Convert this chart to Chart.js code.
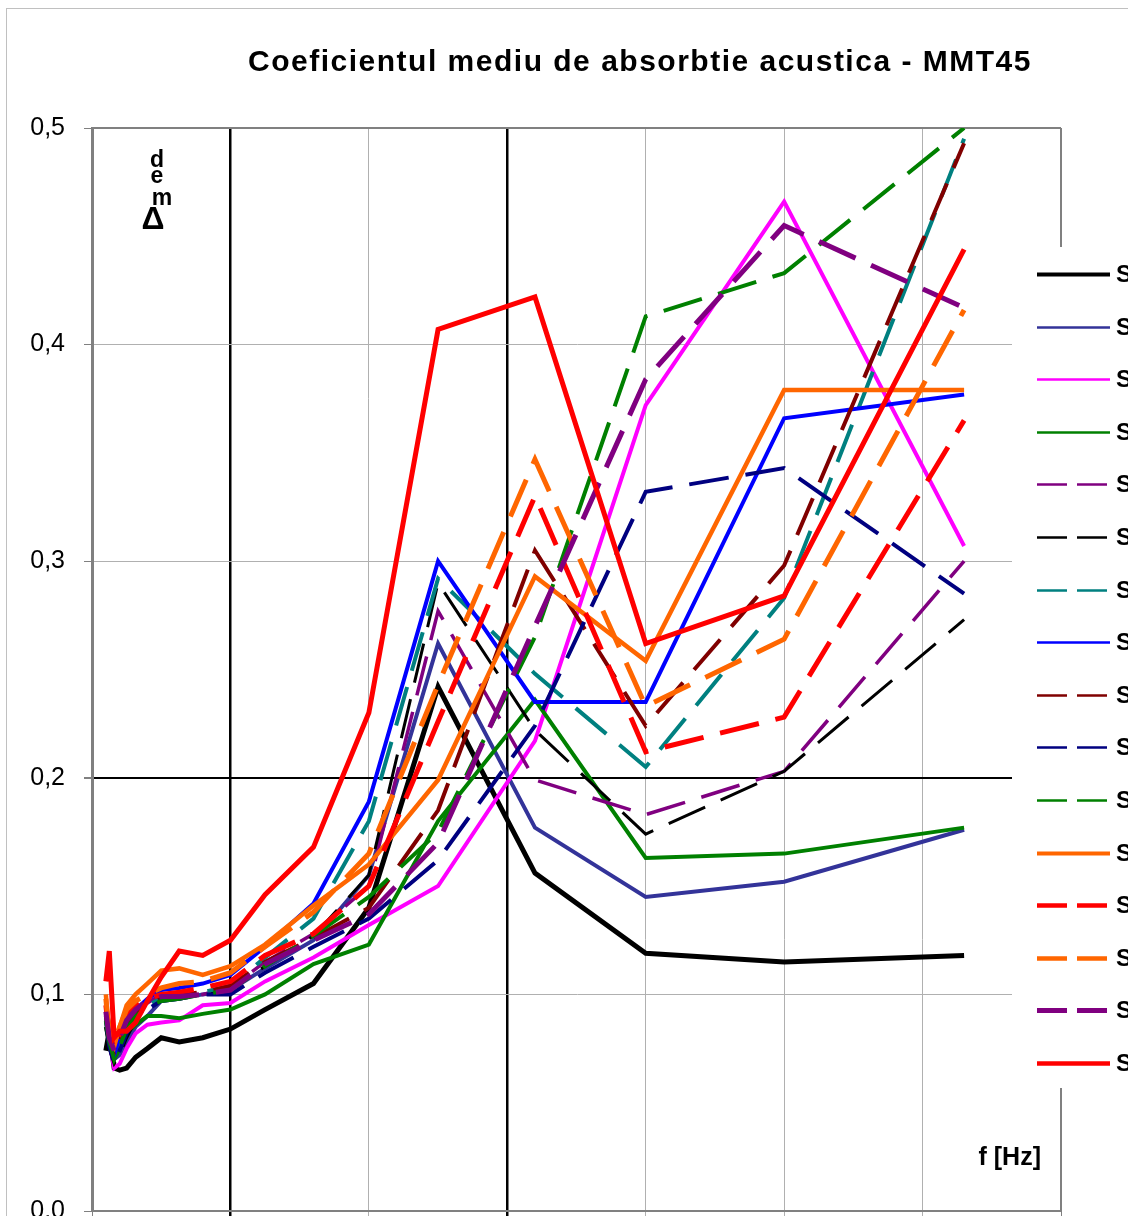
<!DOCTYPE html>
<html><head><meta charset="utf-8">
<script src="https://cdn.jsdelivr.net/npm/chart.js@4/dist/chart.umd.min.js"></script>
<style>html,body{margin:0;padding:0;background:#fff;overflow:hidden}#wrap{position:relative;width:1128px;height:1216px;overflow:hidden}</style>
</head><body><div id="wrap"><canvas id="c" width="1128" height="1245"></canvas></div>
<script>
// ---- data ----
const freqs = [100,125,160,200,250,315,400,500,630,800,1000,1250,1600,2000,2500,3200,4000,5000,6300];
const s1  = [0.074,0.083,0.066,0.065,0.066,0.071,0.075,0.080,0.078,0.080,0.084,0.093,0.105,0.140,0.242,0.156,0.119,0.115,0.118];
const s2  = [0.090,0.085,0.070,0.072,0.078,0.085,0.090,0.097,0.098,0.100,0.102,0.112,0.125,0.155,0.262,0.177,0.145,0.152,0.176];
const s3  = [0.085,0.078,0.066,0.068,0.075,0.082,0.086,0.087,0.088,0.095,0.096,0.106,0.117,0.132,0.150,0.217,0.372,0.466,0.307];
const s4  = [0.085,0.077,0.070,0.075,0.082,0.086,0.090,0.090,0.089,0.091,0.093,0.100,0.114,0.123,0.180,0.236,0.163,0.165,0.177];
const s5  = [0.095,0.080,0.072,0.080,0.088,0.092,0.096,0.100,0.100,0.100,0.103,0.115,0.128,0.150,0.277,0.199,0.183,0.203,0.300];
const s6  = [0.085,0.075,0.068,0.072,0.080,0.088,0.095,0.098,0.098,0.100,0.102,0.113,0.127,0.155,0.290,0.222,0.174,0.203,0.273];
const s7  = [0.090,0.078,0.070,0.076,0.084,0.090,0.095,0.098,0.100,0.101,0.104,0.117,0.135,0.180,0.292,0.248,0.205,0.283,0.495];
const s8  = [0.093,0.080,0.072,0.080,0.088,0.093,0.098,0.102,0.103,0.105,0.109,0.122,0.142,0.189,0.300,0.235,0.235,0.366,0.377];
const s9  = [0.090,0.078,0.072,0.078,0.086,0.091,0.096,0.099,0.100,0.101,0.104,0.115,0.126,0.140,0.185,0.305,0.224,0.298,0.493];
const s10 = [0.088,0.076,0.068,0.074,0.082,0.088,0.093,0.097,0.098,0.100,0.100,0.110,0.122,0.135,0.162,0.224,0.332,0.343,0.285];
const s11 = [0.088,0.078,0.070,0.076,0.084,0.090,0.094,0.097,0.098,0.100,0.102,0.113,0.127,0.145,0.175,0.265,0.413,0.433,0.500];
const s12 = [0.100,0.080,0.076,0.085,0.095,0.100,0.105,0.111,0.112,0.109,0.113,0.123,0.141,0.160,0.199,0.293,0.254,0.379,0.379];
const s13 = [0.095,0.082,0.075,0.082,0.090,0.095,0.098,0.100,0.101,0.103,0.106,0.118,0.128,0.150,0.226,0.330,0.212,0.228,0.365];
const s14 = [0.098,0.082,0.078,0.085,0.093,0.097,0.100,0.103,0.105,0.106,0.110,0.122,0.138,0.165,0.243,0.347,0.233,0.264,0.416];
const s15 = [0.092,0.080,0.074,0.080,0.088,0.093,0.097,0.099,0.099,0.100,0.102,0.114,0.125,0.137,0.170,0.270,0.384,0.455,0.417];
const s16 = [0.106,0.120,0.080,0.083,0.083,0.087,0.097,0.108,0.120,0.118,0.125,0.146,0.168,0.230,0.407,0.422,0.262,0.284,0.444];
const seriesValues = [s1,s2,s3,s4,s5,s6,s7,s8,s9,s10,s11,s12,s13,s14,s15,s16];
const seriesNames = ['Series1','Series2','Series3','Series4','Series5','Series6','Series7','Series8','Series9','Series10','Series11','Series12','Series13','Series14','Series15','Series16'];
const yTickValues = [0,0.1,0.2,0.3,0.4,0.5];
const titleText = 'Coeficientul mediu de absorbtie acustica - MMT45';
const xAxisText = 'f [Hz]';
const yAxisChars = ['d','e','m','\u0394'];

// ---- styles ----
const colors = ['#000000','#333399','#FF00FF','#008000','#800080','#000000','#008080','#0000FF','#800000','#000080','#008000','#FF6600','#FF0000','#FF6600','#800080','#FF0000'];
const dashed = [false,false,false,false,true,true,true,false,true,true,true,false,true,true,true,false];
const widths = [5,4,4,4,3.5,3,4,4,4,4,4,4.5,5,5,5,5];
const legendWidths = [4,2.4,2.4,2.4,2.4,2.4,2.4,2.4,2.4,2.4,2.4,4,4.5,4.5,5,4.5];
const FONT = '"Liberation Sans", Arial, sans-serif';

const datasets = seriesValues.map((vals,i)=>({
  label: seriesNames[i],
  data: freqs.map((f,j)=>({x:f,y:vals[j]})),
  borderColor: colors[i],
  backgroundColor: colors[i],
  borderWidth: widths[i],
  borderDash: dashed[i] ? [40,17] : [],
  pointRadius: 0,
  tension: 0,
  fill: false,
  order: 15 - i
}));

const decor = {
  id:'decor',
  beforeDraw(chart){
    const c = chart.ctx;
    c.save();
    c.fillStyle = '#fff'; c.fillRect(0,0,chart.width,chart.height);
    c.strokeStyle = '#c0c0c0'; c.lineWidth = 1;
    c.strokeRect(6.5,8.5,1400,1400);
    c.restore();
  },
  beforeDatasetsDraw(chart){
    const c = chart.ctx, a = chart.chartArea;
    c.save();
    c.strokeStyle = '#808080';
    c.lineWidth = 2;
    c.beginPath(); c.moveTo(a.left, a.top); c.lineTo(a.right, a.top); c.stroke();
    c.beginPath(); c.moveTo(a.right, a.top); c.lineTo(a.right, a.bottom); c.stroke();
    c.restore();
  },
  afterDraw(chart){
    const c = chart.ctx;
    c.save();
    // title
    c.fillStyle = '#000';
    c.font = 'bold 30px ' + FONT;
    c.letterSpacing = '1.5px';
    c.textAlign = 'center'; c.textBaseline = 'alphabetic';
    c.fillText(titleText, 640, 71);
    c.letterSpacing = '0px';
    // y-axis label (stacked characters)
    c.font = 'bold 23px ' + FONT;
    const pos = [[157,167],[157,183],[162,205]];
    for (let k=0;k<3;k++) c.fillText(yAxisChars[k], pos[k][0], pos[k][1]);
    c.font = 'bold 32px ' + FONT;
    c.fillText(yAxisChars[3], 153, 229);
    // x-axis label
    c.font = 'bold 25px ' + FONT;
    c.textAlign = 'right';
    c.fillText(xAxisText, 1041, 1165);
    // legend
    c.fillStyle = '#fff';
    c.fillRect(1012,247,200,841);
    chart.data.datasets.forEach((ds,i)=>{
      const y = Math.round(274 + i*52.6) + 0.5;
      c.strokeStyle = ds.borderColor;
      c.lineWidth = legendWidths[i];
      c.setLineDash(dashed[i] ? [30,10] : []);
      c.beginPath(); c.moveTo(1037,y); c.lineTo(dashed[i]?1107:1110,y); c.stroke();
      c.setLineDash([]);
      c.fillStyle = '#000';
      c.font = 'bold 24px ' + FONT;
      c.textAlign = 'left'; c.textBaseline = 'middle';
      c.fillText(ds.label, 1116, y+1);
    });
    c.restore();
  }
};

new Chart(document.getElementById('c'), {
  type: 'line',
  data: { datasets },
  options: {
    responsive: false,
    animation: false,
    devicePixelRatio: 1,
    layout: { padding: { top: 128, right: 67, left: 0, bottom: 0 } },
    plugins: { legend: { display: false }, title: { display: false }, tooltip: { enabled: false } },
    elements: { line: { borderJoinStyle: 'miter' } },
    scales: {
      x: {
        type: 'linear', min: 0, max: 7000,
        ticks: { stepSize: 1000, display: false },
        grid: {
          color: ctx => (ctx.tick && (ctx.tick.value === 1000 || ctx.tick.value === 3000)) ? '#000' : ((ctx.tick && (ctx.tick.value===0||ctx.tick.value===7000)) ? '#808080' : '#b0b0b0'),
          lineWidth: ctx => (ctx.tick && (ctx.tick.value === 1000 || ctx.tick.value === 3000)) ? 2.5 : 1,
          drawTicks: true, tickLength: 6
        },
        border: { color: '#808080', width: 2 },
        afterFit(s){ s.height = 6; }
      },
      y: {
        min: 0, max: 0.5,
        afterBuildTicks(s){ s.ticks = yTickValues.map(v=>({value:v})); },
        ticks: {
          color: '#000', padding: 19,
          font: { family: FONT, size: 25 },
          callback: v => v.toFixed(1).replace('.', ',')
        },
        grid: {
          color: ctx => (ctx.tick && Math.abs(ctx.tick.value-0.2)<1e-9) ? '#000' : ((ctx.tick && (ctx.tick.value===0||Math.abs(ctx.tick.value-0.5)<1e-9)) ? '#808080' : '#b0b0b0'),
          lineWidth: ctx => (ctx.tick && Math.abs(ctx.tick.value-0.2)<1e-9) ? 2 : 1,
          drawTicks: true, tickLength: 8, tickColor: '#808080'
        },
        border: { color: '#808080', width: 3 },
        afterFit(s){ s.width = 92; }
      }
    }
  },
  plugins: [decor]
});
</script>
</body></html>
